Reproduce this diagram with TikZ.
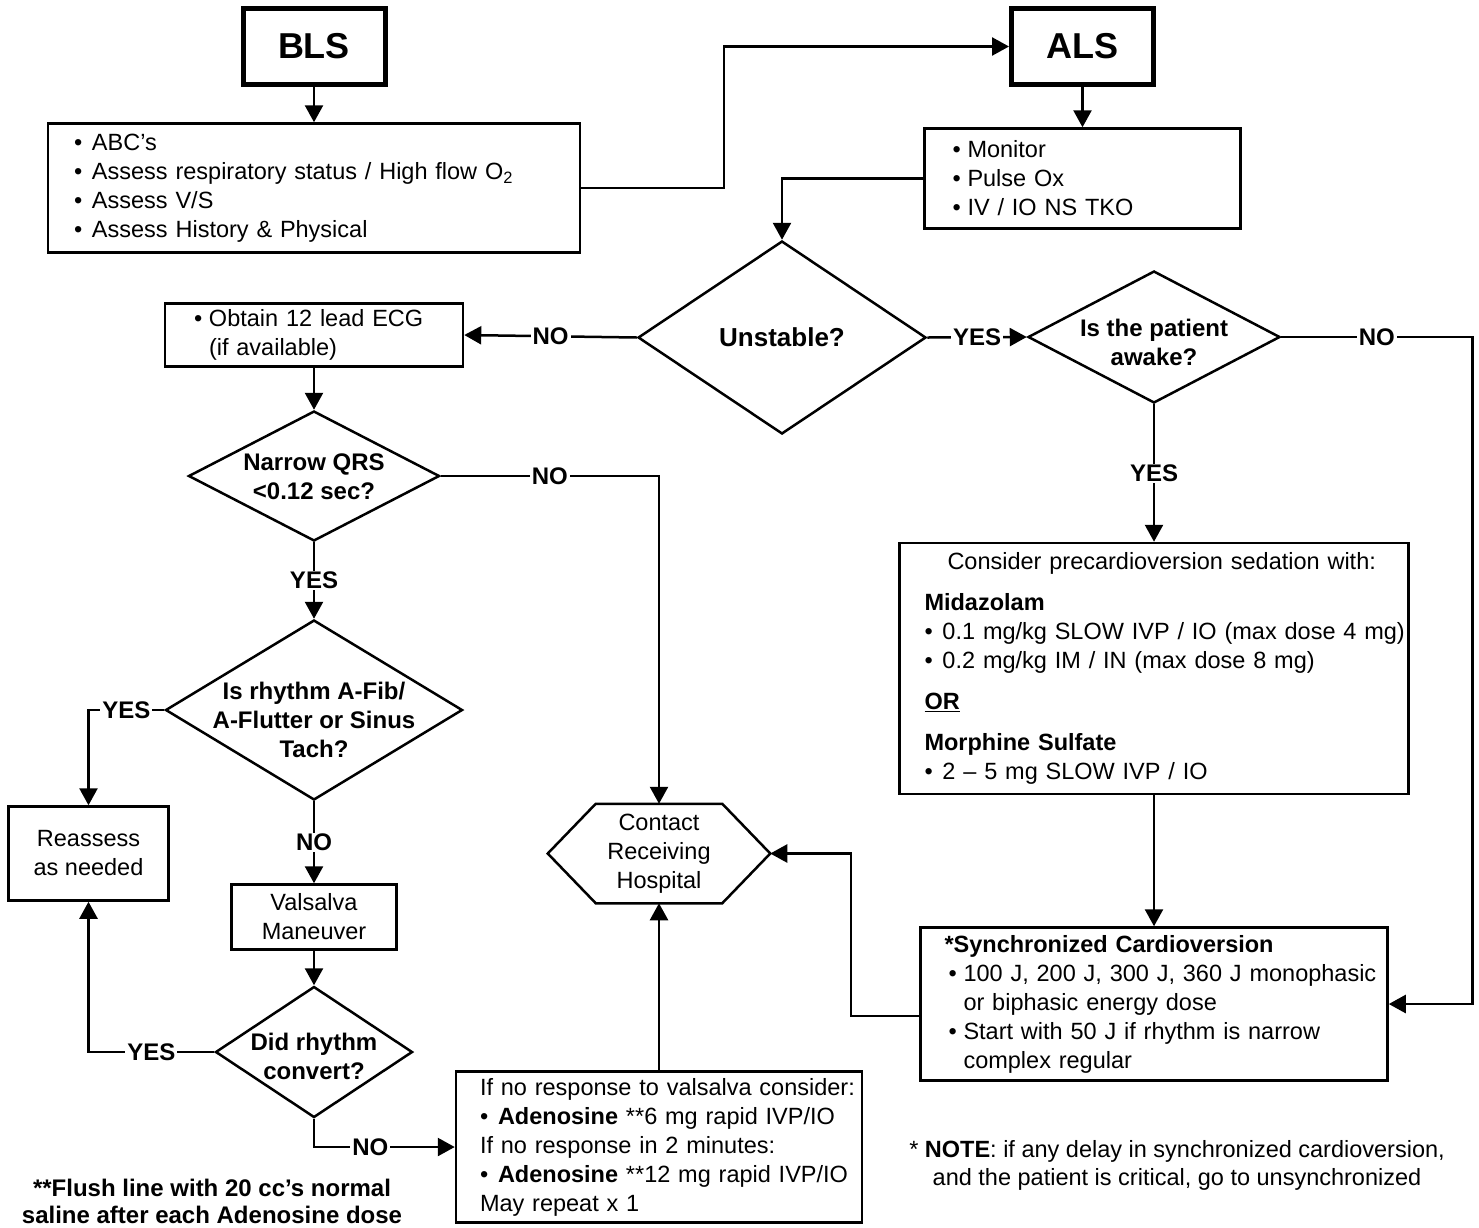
\documentclass[tikz,border=0pt]{standalone}
\usepackage{fontspec}
\setmainfont{Liberation Sans}
\usetikzlibrary{arrows.meta,shapes.geometric}
\newcommand{\myfs}{\fontsize{23.5}{29}\selectfont}
\newcommand{\mybf}{\fontsize{24}{29}\selectfont\bfseries}
\newcommand{\bux}[1]{\makebox[#1][l]{•}}
\newcommand{\dtxt}[2]{\makebox[0pt]{\raisebox{#1}[0pt][0pt]{\begin{tabular}[b]{@{}c@{}}#2\end{tabular}}}}
\begin{document}
\begin{tikzpicture}[x=1pt,y=-1pt,line width=2.5pt,
  arr/.style={-{Triangle[length=17pt,width=18pt]}},
  box/.style={draw,line width=2.5pt,inner ysep=0pt,align=left,font=\myfs},
  cbox/.style={draw,line width=2.5pt,inner sep=0pt,align=center,font=\myfs},
  tbox/.style={draw,line width=5pt,inner sep=0pt,font=\fontsize{36}{43}\selectfont\bfseries,minimum width=142pt,minimum height=76pt},
  dia/.style={diamond,draw,line width=2.5pt,inner sep=0pt,font=\mybf},
  lbl/.style={fill=white,inner xsep=2pt,inner ysep=1pt,font=\mybf}]
\useasboundingbox (0,0) rectangle (1479,1227);

% nodes
\node[tbox] (bls) at (314,46.5) {BLS};
\node[tbox] (als) at (1082.5,46.5) {ALS};
\node[box,text width=480pt,inner xsep=26pt,minimum height=129pt] (blsi) at (314,188)
 {\mbox{\bux{18pt}ABC’s}\\\mbox{\bux{18pt}Assess respiratory status / High flow O\textsubscript{2}}\\\mbox{\bux{18pt}Assess V/S}\\\mbox{\bux{18pt}Assess History \& Physical}};
\node[box,text width=260pt,inner xsep=28pt,minimum height=100pt] (mon) at (1082.5,178.5)
 {\mbox{\bux{15pt}Monitor}\\\mbox{\bux{15pt}Pulse Ox}\\\mbox{\bux{15pt}IV / IO NS TKO}};
\node[dia,minimum width=288pt,minimum height=193pt,font=\fontsize{26}{31}\selectfont\bfseries] (unst) at (782,337.5) {\dtxt{-8.5pt}{Unstable?}};
\node[dia,minimum width=252pt,minimum height=132pt] (awake) at (1154,337) {\dtxt{-28.6pt}{Is the patient\\awake?}};
\node[box,text width=240pt,inner xsep=29pt,minimum height=63pt] (ecg) at (314,335)
 {\mbox{\bux{15pt}Obtain 12 lead ECG}\\\mbox{\hspace*{15pt}(if available)}};
\node[dia,minimum width=251pt,minimum height=130pt] (nqrs) at (314,476) {\dtxt{-23.1pt}{Narrow QRS\\<0.12 sec?}};
\node[dia,minimum width=297pt,minimum height=180pt] (rhy) at (314,710) {\dtxt{-47.9pt}{Is rhythm A-Fib/\\A-Flutter or Sinus\\Tach?}};
\node[cbox,minimum width=160pt,minimum height=94pt] (reas) at (88.5,853.5) {Reassess\\as needed};
\node[cbox,minimum width=165pt,minimum height=65pt] (vals) at (314,917) {Valsalva\\Maneuver};
\node[dia,minimum width=197pt,minimum height=131pt] (did) at (314,1052) {\dtxt{-27.6pt}{Did rhythm\\convert?}};
\node[font=\myfs,align=center,inner sep=0pt,minimum width=220pt,minimum height=97pt] (hosp) at (659,853.5) {Contact\\Receiving\\Hospital};
\draw (hosp.west) -- ([xshift=48pt]hosp.north west) -- ([xshift=-48pt]hosp.north east) -- (hosp.east)
  -- ([xshift=-48pt]hosp.south east) -- ([xshift=48pt]hosp.south west) -- cycle;
\node[box,text width=358pt,inner xsep=24pt,minimum height=151pt] (aden) at (659,1147)
 {\mbox{If no response to valsalva consider:}\\\mbox{\bux{18pt}\textbf{Adenosine} **6 mg rapid IVP/IO}\\\mbox{If no response in 2 minutes:}\\\mbox{\bux{18pt}\textbf{Adenosine} **12 mg rapid IVP/IO}\\\mbox{May repeat x 1}};
\node[box,text width=459pt,inner xsep=25pt,minimum height=251pt] (sed) at (1154,668.5)
 {\mbox{\hspace*{23pt}Consider precardioversion sedation with:}\\[12pt]\mbox{\textbf{Midazolam}}\\\mbox{\bux{18pt}0.1 mg/kg SLOW IVP / IO (max dose 4 mg)}\\\mbox{\bux{18pt}0.2 mg/kg IM / IN (max dose 8 mg)}\\[12pt]\mbox{\underline{\textbf{OR}}}\\[12pt]\mbox{\textbf{Morphine Sulfate}}\\\mbox{\bux{18pt}2 – 5 mg SLOW IVP / IO}};
\node[box,text width=419pt,inner xsep=24pt,minimum height=153pt] (sync) at (1154,1004)
 {\mbox{\textbf{*Synchronized Cardioversion}}\\\mbox{\hspace*{4pt}\bux{15pt}100 J, 200 J, 300 J, 360 J monophasic}\\\mbox{\hspace*{19pt}or biphasic energy dose}\\\mbox{\hspace*{4pt}\bux{15pt}Start with 50 J if rhythm is narrow}\\\mbox{\hspace*{19pt}complex regular}};
\node[font=\fontsize{24}{27}\selectfont\bfseries,align=center,inner sep=0pt] (flush) at (212,1201.5)
 {**Flush line with 20 cc’s normal\\saline after each Adenosine dose};
\node[font=\fontsize{23.5}{28}\selectfont,align=center,inner sep=0pt] (note) at (1177,1165.5)
 {* \textbf{NOTE}: if any delay in synchronized cardioversion,\\and the patient is critical, go to unsynchronized};

% connectors
\draw[arr] (bls.south) -- (blsi.north);
\draw[arr] (blsi.east) -- ++(142.5,0) |- (als.west);
\draw[arr] (als.south) -- (mon.north);
\draw[arr] (mon.west) -| (unst.north);
\draw[arr] (unst.west) -- node[lbl,midway]{NO} (ecg.east);
\draw[arr] (ecg.south) -- (nqrs.north);
\draw[arr] (nqrs.east) -- node[lbl,midway]{NO} (nqrs.east -| hosp.north) -- (hosp.north);
\draw[arr] (nqrs.south) -- node[lbl,midway]{YES} (rhy.north);
\draw[arr] (rhy.west) -- node[lbl,midway]{YES} (rhy.west -| reas.north) -- (reas.north);
\draw[arr] (rhy.south) -- node[lbl,midway]{NO} (vals.north);
\draw[arr] (vals.south) -- (did.north);
\draw[arr] (did.west) -- node[lbl,midway]{YES} (did.west -| reas.south) -- (reas.south);
\draw[arr] (did.south) -- (did.south |- aden.west) -- node[lbl,pos=0.4]{NO} (aden.west);
\draw[arr] (aden.north) -- (hosp.south);
\draw[arr] (unst.east) -- node[lbl,midway]{YES} (awake.west);
\draw[arr] (awake.south) -- node[lbl,midway]{YES} (sed.north);
\draw[arr] (awake.east) -- node[lbl,midway]{NO} ++(191,0) |- (sync.east);
\draw[arr] (sed.south) -- (sync.north);
\draw[arr] ([yshift=-12pt]sync.west) -- ++(-68.5,0) |- (hosp.east);
\end{tikzpicture}
\end{document}
